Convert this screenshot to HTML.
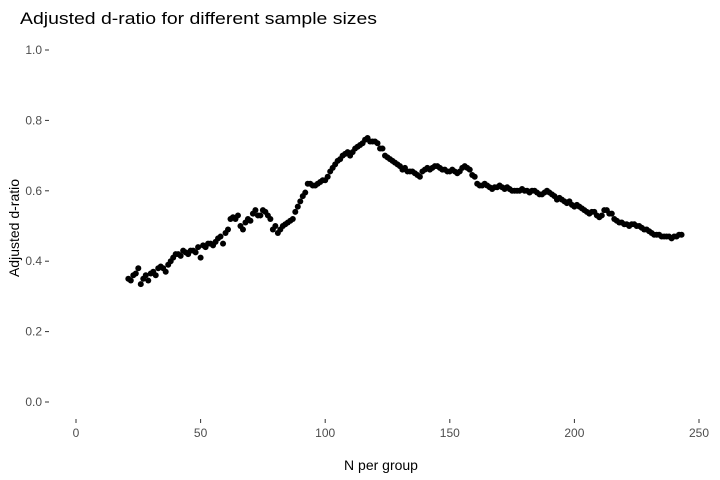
<!DOCTYPE html>
<html><head><meta charset="utf-8"><style>
body{margin:0;background:#fff;}
svg{display:block;font-family:"Liberation Sans",sans-serif;}
</style></head><body>
<svg id="chart" width="720" height="480">
<text x="20" y="24" font-size="17" textLength="357" lengthAdjust="spacingAndGlyphs" fill="#000">Adjusted d-ratio for different sample sizes</text>
<text x="381" y="470" font-size="14" text-anchor="middle" fill="#000">N per group</text>
<text transform="translate(19,228) rotate(-90)" font-size="14" text-anchor="middle" fill="#000">Adjusted d-ratio</text>
<g id="xticks"></g>
<g id="yticks"></g>
<g id="points"></g>
</svg>
<script>
const xTicks=[0,50,100,150,200,250];
const yTicks=[0,0.2,0.4,0.6,0.8,1.0];
const yTickLabels=["0.0","0.2","0.4","0.6","0.8","1.0"];
const nStart=21;
const ratios=[0.35,0.345,0.36,0.365,0.38,0.335,0.35,0.36,0.345,0.365,0.37,0.36,0.38,0.385,0.38,0.37,0.39,0.40,0.41,0.42,
0.42,0.415,0.43,0.425,0.42,0.43,0.43,0.425,0.44,0.41,0.445,0.44,0.45,0.45,0.445,0.455,0.465,0.47,0.45,0.48,
0.49,0.52,0.525,0.52,0.53,0.50,0.49,0.51,0.52,0.515,0.535,0.545,0.53,0.53,0.545,0.54,0.53,0.52,0.49,0.50,
0.48,0.49,0.50,0.505,0.51,0.515,0.52,0.54,0.555,0.57,0.585,0.595,0.62,0.62,0.615,0.615,0.62,0.625,0.63,0.63,
0.64,0.655,0.665,0.675,0.685,0.69,0.70,0.705,0.71,0.70,0.71,0.72,0.725,0.73,0.735,0.745,0.75,0.74,0.74,0.74,
0.735,0.72,0.72,0.70,0.695,0.69,0.685,0.68,0.675,0.67,0.66,0.665,0.655,0.655,0.655,0.65,0.645,0.64,0.655,0.66,
0.665,0.66,0.665,0.67,0.67,0.665,0.66,0.66,0.655,0.655,0.66,0.655,0.65,0.655,0.665,0.67,0.665,0.66,0.645,0.64,
0.62,0.615,0.615,0.62,0.615,0.61,0.605,0.61,0.61,0.615,0.61,0.605,0.61,0.605,0.60,0.60,0.60,0.60,0.605,0.60,
0.60,0.595,0.60,0.60,0.595,0.59,0.59,0.595,0.60,0.595,0.59,0.585,0.575,0.58,0.575,0.57,0.565,0.57,0.56,0.555,
0.56,0.555,0.55,0.545,0.54,0.535,0.54,0.54,0.53,0.525,0.53,0.545,0.545,0.535,0.535,0.52,0.515,0.51,0.51,0.505,
0.505,0.50,0.505,0.505,0.50,0.50,0.495,0.49,0.49,0.485,0.48,0.475,0.475,0.475,0.47,0.47,0.47,0.47,0.465,0.47,
0.47,0.475,0.475];
const NS="http://www.w3.org/2000/svg";
function xs(v){return 76+v*(699-76)/250;}
function ys(v){return 402-v*352;}
const gx=document.getElementById('xticks');
xTicks.forEach(t=>{
 const l=document.createElementNS(NS,'line');
 l.setAttribute('x1',xs(t));l.setAttribute('x2',xs(t));l.setAttribute('y1',419);l.setAttribute('y2',423);l.setAttribute('stroke','#333');
 
 
 gx.appendChild(l);
 const tx=document.createElementNS(NS,'text');
 tx.setAttribute('x',xs(t));tx.setAttribute('y',437);tx.setAttribute('font-size','12');tx.setAttribute('fill','#4d4d4d');tx.setAttribute('text-anchor','middle');
 tx.textContent=t;
 
 
 gx.appendChild(tx);
});
const gy=document.getElementById('yticks');
yTicks.forEach((t,i)=>{
 const l=document.createElementNS(NS,'line');
 l.setAttribute('x1',45);l.setAttribute('x2',49);l.setAttribute('y1',ys(t));l.setAttribute('y2',ys(t));l.setAttribute('stroke','#333');
 
 
 gy.appendChild(l);
 const tx=document.createElementNS(NS,'text');
 tx.setAttribute('x',42);tx.setAttribute('y',ys(t)+4);tx.setAttribute('font-size','12');tx.setAttribute('fill','#4d4d4d');tx.setAttribute('text-anchor','end');
 tx.textContent=yTickLabels[i];
 
 
 gy.appendChild(tx);
});
const gp=document.getElementById('points');
ratios.forEach((v,i)=>{
 const c=document.createElementNS(NS,'circle');
 c.setAttribute('cx',xs(nStart+i));c.setAttribute('cy',ys(v));c.setAttribute('r',3);c.setAttribute('fill','#000');
 
 
 gp.appendChild(c);
});
</script>
</body></html>
